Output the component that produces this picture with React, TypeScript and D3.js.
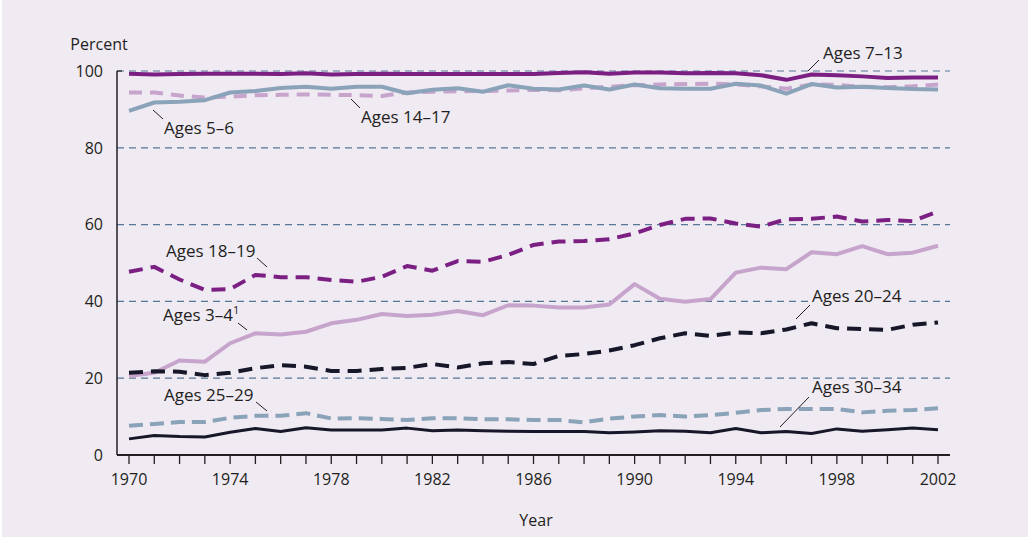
import React from "react";
import * as d3 from "d3";

const years = d3.range(1970, 2003);

const ages3to4 = [20.6, 21.4, 24.6, 24.3, 29.1, 31.7, 31.4, 32.1, 34.3, 35.2, 36.7, 36.2, 36.5, 37.5, 36.4, 39.0, 38.9, 38.4, 38.4, 39.2, 44.5, 40.7, 39.9, 40.6, 47.5, 48.8, 48.4, 52.8, 52.3, 54.4, 52.3, 52.7, 54.5];
const ages5to6 = [89.6, 91.8, 92.0, 92.4, 94.4, 94.8, 95.6, 95.9, 95.4, 95.9, 95.9, 94.2, 95.1, 95.5, 94.6, 96.3, 95.4, 95.2, 96.2, 95.2, 96.5, 95.5, 95.4, 95.4, 96.7, 96.2, 94.1, 96.6, 95.7, 95.9, 95.6, 95.3, 95.2];
const ages7to13 = [99.3, 99.1, 99.2, 99.3, 99.3, 99.3, 99.2, 99.4, 99.1, 99.2, 99.3, 99.2, 99.2, 99.2, 99.2, 99.2, 99.2, 99.5, 99.7, 99.3, 99.6, 99.6, 99.4, 99.5, 99.4, 98.9, 97.7, 99.1, 98.9, 98.6, 98.2, 98.3, 98.3];
const ages14to17 = [94.4, 94.4, 93.6, 93.1, 93.3, 93.7, 93.8, 93.9, 93.8, 93.7, 93.5, 94.4, 94.6, 94.7, 94.8, 94.9, 95.1, 95.0, 95.5, 95.9, 96.3, 96.5, 96.6, 96.7, 96.5, 96.0, 95.4, 96.5, 96.4, 95.9, 95.8, 96.0, 96.5];
const ages18to19 = [47.7, 49.0, 45.7, 43.0, 43.2, 46.9, 46.3, 46.3, 45.6, 45.1, 46.4, 49.2, 48.0, 50.5, 50.3, 52.1, 54.7, 55.6, 55.7, 56.2, 57.7, 59.9, 61.5, 61.6, 60.3, 59.5, 61.4, 61.5, 62.1, 60.8, 61.2, 60.9, 63.4];
const ages20to24 = [21.4, 21.8, 21.7, 20.8, 21.4, 22.6, 23.4, 23.0, 21.9, 21.9, 22.4, 22.7, 23.7, 22.8, 23.9, 24.2, 23.7, 25.8, 26.3, 27.2, 28.6, 30.4, 31.7, 31.0, 31.9, 31.7, 32.7, 34.3, 33.0, 32.8, 32.6, 33.9, 34.5];
const ages25to29 = [7.6, 8.1, 8.6, 8.6, 9.7, 10.2, 10.2, 10.9, 9.5, 9.6, 9.4, 9.1, 9.6, 9.6, 9.3, 9.3, 9.1, 9.1, 8.5, 9.5, 10.0, 10.4, 10.0, 10.4, 11.0, 11.7, 12.0, 12.0, 12.0, 11.1, 11.5, 11.7, 12.2];
const ages30to34 = [4.2, 5.1, 4.8, 4.7, 5.9, 6.9, 6.1, 7.1, 6.5, 6.5, 6.5, 7.0, 6.3, 6.5, 6.3, 6.2, 6.1, 6.1, 6.1, 5.8, 6.0, 6.3, 6.2, 5.8, 6.9, 5.8, 6.1, 5.6, 6.8, 6.2, 6.6, 7.0, 6.6];

const yTicks = [0, 20, 40, 60, 80, 100];
const xLabelYears = [1970, 1974, 1978, 1982, 1986, 1990, 1994, 1998, 2002];

const DARK_PURPLE = "#7b2082";
const LIGHT_PURPLE = "#c7a4cc";
const BLUE_GRAY = "#8aa3b9";
const NAVY_BLACK = "#17172a";
const TEXT = "#231f20";
const GRID = "#557795";
const BG = "#f0eaf3";
const FONT = "'Open Sans', sans-serif";

const seriesList = [
  { name: "ages3to4", values: ages3to4, color: LIGHT_PURPLE, width: 4, dash: null },
  { name: "ages25to29", values: ages25to29, color: BLUE_GRAY, width: 4, dash: "14,7" },
  { name: "ages30to34", values: ages30to34, color: NAVY_BLACK, width: 3, dash: null },
  { name: "ages20to24", values: ages20to24, color: NAVY_BLACK, width: 4, dash: "14,8" },
  { name: "ages18to19", values: ages18to19, color: DARK_PURPLE, width: 4, dash: "14,8" },
  { name: "ages14to17", values: ages14to17, color: LIGHT_PURPLE, width: 4, dash: "13,8" },
  { name: "ages5to6", values: ages5to6, color: BLUE_GRAY, width: 4, dash: null },
  { name: "ages7to13", values: ages7to13, color: DARK_PURPLE, width: 4, dash: null },
];

const labels = [
  { text: "Ages 7–13", x: 823, y: 59, line: [808, 71, 819, 60], knock: false },
  { text: "Ages 5–6", x: 164, y: 134, line: [153, 110, 163, 119], knock: false },
  { text: "Ages 14–17", x: 361, y: 123, line: [351, 99, 360, 108], knock: false },
  { text: "Ages 18–19", x: 166, y: 257, line: [257, 258, 267, 267], knock: false },
  { text: "Ages 25–29", x: 164, y: 401, line: [256, 402, 267, 411], knock: false },
  { text: "Ages 20–24", x: 812, y: 302, line: [810, 305, 796, 319], knock: true },
  { text: "Ages 30–34", x: 812, y: 393, line: [809, 397, 780, 427], knock: false },
];

export default function App() {
  const W = 1028;
  const H = 540;
  const x = d3.scaleLinear().domain([1970, 2002]).range([129, 938]);
  const y = d3.scaleLinear().domain([0, 100]).range([455, 71]);
  const axisLeft = 117;
  const axisRight = 950;

  const line = d3
    .line<number>()
    .x((_, i) => x(years[i]))
    .y((d) => y(d))
    .curve(d3.curveLinear);

  return (
    <svg
      width={W}
      height={H}
      style={{ position: "absolute", left: 0, top: 0, display: "block" }}
      fontFamily={FONT}
    >
      <rect x={0} y={0} width={W} height={H} fill="#ffffff" />
      <rect x={2} y={0} width={W - 2} height={H - 3} fill={BG} />

      {/* gridlines */}
      {yTicks
        .filter((t) => t > 0)
        .map((t) => (
          <line
            key={t}
            x1={axisLeft}
            x2={axisRight}
            y1={y(t)}
            y2={y(t)}
            stroke={GRID}
            strokeWidth={1.2}
            strokeDasharray="7,5"
          />
        ))}

      {/* series */}
      {seriesList.map((s) => (
        <path
          key={s.name}
          d={line(s.values) || ""}
          fill="none"
          stroke={s.color}
          strokeWidth={s.width}
          strokeDasharray={s.dash || undefined}
          strokeLinejoin="round"
        />
      ))}

      {/* axes */}
      <line x1={axisLeft} x2={axisLeft} y1={y(100)} y2={y(0)} stroke={TEXT} strokeWidth={1.5} />
      <line x1={axisLeft} x2={axisLeft + 5} y1={y(100)} y2={y(100)} stroke={TEXT} strokeWidth={1.2} />
      <line x1={axisLeft} x2={axisRight} y1={y(0)} y2={y(0)} stroke={TEXT} strokeWidth={2} />
      {years.map((yr) => (
        <line key={yr} x1={x(yr)} x2={x(yr)} y1={y(0)} y2={y(0) + 9} stroke={TEXT} strokeWidth={1.3} />
      ))}

      {/* tick labels */}
      {yTicks.map((t) => (
        <text key={t} x={103} y={y(t)} dy="0.36em" textAnchor="end" fontSize={16} fill={TEXT}>
          {t}
        </text>
      ))}
      {xLabelYears.map((yr) => (
        <text key={yr} x={x(yr)} y={485} textAnchor="middle" fontSize={16} fill={TEXT}>
          {yr}
        </text>
      ))}
      <text x={99} y={50} textAnchor="middle" fontSize={16} fill={TEXT}>
        Percent
      </text>
      <text x={536} y={526} textAnchor="middle" fontSize={16} fill={TEXT}>
        Year
      </text>

      {/* series labels */}
      {labels.map((l) => (
        <g key={l.text}>
          {l.knock && <rect x={l.x - 3} y={l.y - 15} width={95} height={19} fill={BG} />}
          <line x1={l.line[0]} y1={l.line[1]} x2={l.line[2]} y2={l.line[3]} stroke={TEXT} strokeWidth={1} />
          <text x={l.x} y={l.y} fontSize={17} fill={TEXT}>
            {l.text}
          </text>
        </g>
      ))}
      <line x1={238} y1={323} x2={247} y2={330} stroke={TEXT} strokeWidth={1} />
      <text x={163} y={321} fontSize={17} fill={TEXT}>
        Ages 3–4
        <tspan fontSize={11} dy={-7}>1</tspan>
      </text>
    </svg>
  );
}
